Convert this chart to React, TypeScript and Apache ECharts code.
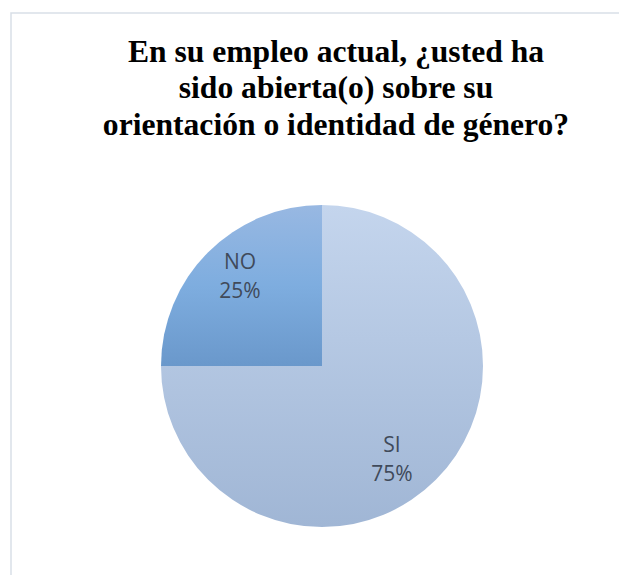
import React, { useEffect, useRef } from "react";
import * as echarts from "echarts";

const categories = ["SI", "NO"];
const values = [75, 25];
const titleLines = [
  "En su empleo actual, ¿usted ha",
  "sido abierta(o) sobre su",
  "orientación o identidad de género?",
];

export default function App() {
  const ref = useRef<HTMLDivElement>(null);
  useEffect(() => {
    if (!ref.current) return;
    const chart = echarts.init(ref.current, null, { renderer: "svg" });
    const gradients = [
      new echarts.graphic.LinearGradient(0, 0, 0, 1, [
        { offset: 0, color: "#c4d5ed" },
        { offset: 1, color: "#a0b6d5" },
      ]),
      new echarts.graphic.LinearGradient(0, 0, 0, 1, [
        { offset: 0, color: "#98b8e2" },
        { offset: 0.5, color: "#7eaddf" },
        { offset: 1, color: "#6a98cb" },
      ]),
    ];
    const data = categories.map((c, i) => ({
      name: c,
      value: values[i],
      itemStyle: { color: gradients[i] },
    }));
    const labelStyle = {
      position: "inside",
      formatter: "{b}\n{d}%",
      fontFamily: "Open Sans",
      fontSize: 21,
      lineHeight: 29,
      color: "#404a5a",
    };
    // one transparent overlay per label, to place each label like the reference
    const labelSeries = (showIndex: number, startAngle: number, r: number) => ({
      type: "pie",
      center: [322, 366],
      radius: [0, r],
      startAngle,
      clockwise: true,
      silent: true,
      itemStyle: { color: "transparent", borderWidth: 0 },
      label: { show: false },
      labelLine: { show: false },
      data: categories.map((c, i) => ({
        name: c,
        value: values[i],
        label: { show: i === showIndex, ...labelStyle },
      })),
    });
    chart.setOption({
      animation: false,
      graphic: [
        {
          type: "rect",
          shape: { x: 11, y: 13, width: 800, height: 800 },
          style: { fill: "none", stroke: "#d9dfe7", lineWidth: 1.5 },
          silent: true,
          z: 0,
        },
        ...titleLines.map((line, i) => ({
          type: "text",
          style: {
            text: line,
            x: 336,
            y: 35 + i * 36.7,
            textAlign: "center",
            fontFamily: "Times New Roman",
            fontWeight: "bold",
            fontSize: 31.6,
            fill: "#000000",
          },
          z: 10,
        })),
      ],
      series: [
        {
          type: "pie",
          center: [322, 366],
          radius: [0, 161],
          startAngle: 90,
          clockwise: true,
          silent: true,
          label: { show: false },
          labelLine: { show: false },
          data,
        },
        labelSeries(0, 82.1, 225.6),
        labelSeries(1, 87.3, 237.8),
      ],
    });
    return () => chart.dispose();
  }, []);
  return (
    <div
      ref={ref}
      style={{ position: "fixed", left: 0, top: 0, width: 619, height: 575, background: "#ffffff" }}
    />
  );
}
